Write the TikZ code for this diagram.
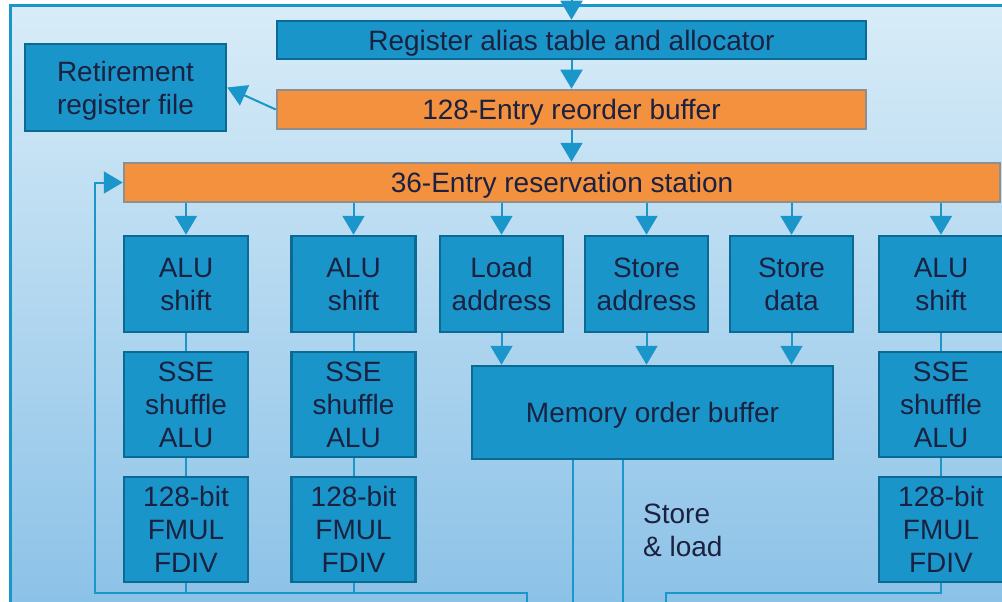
\documentclass[tikz,border=0pt]{standalone}
\usepackage{fontspec}
\setmainfont{Liberation Sans}
\usetikzlibrary{arrows.meta}
\definecolor{unitblue}{HTML}{1A95C9}
\definecolor{unitedge}{HTML}{0B6A93}
\definecolor{bufor}{HTML}{F4913F}
\definecolor{bufedge}{HTML}{8E8E8E}
\definecolor{wireblue}{HTML}{1A96CA}
\definecolor{ink}{HTML}{1B2140}
\definecolor{bgtop}{HTML}{D8ECF8}
\definecolor{bgbot}{HTML}{8CC2E7}
\begin{document}
\begin{tikzpicture}[x=1pt,y=-1pt,font=\fontsize{28}{33}\selectfont,
  unit/.style={draw=unitedge,fill=unitblue,line width=2.5pt,text=ink,inner sep=0pt,text depth=0pt,align=center},
  buf/.style={draw=bufedge,fill=bufor,line width=2.5pt,text=ink,inner sep=0pt,text depth=0pt},
  wire/.style={draw=wireblue,line width=2pt},
  arr/.style={wire,-{Triangle[width=22pt,length=19pt]}}]
\useasboundingbox(0,0)rectangle(1002,602);
\shade[top color=bgtop,bottom color=bgbot](10,6)rectangle(1002,602);
\draw[wireblue,line width=3pt](10,602)--(10,6)--(1002,6);
% front end
\node[unit,minimum width=589pt,minimum height=38pt](rat)at(571.5,40){Register alias table and allocator};
\node[buf,minimum width=589pt,minimum height=39pt](rob)at(571.5,109.5){128-Entry reorder buffer};
\node[unit,minimum width=201pt,minimum height=87pt](rrf)at(125.5,87.5){Retirement\\register file};
\node[buf,minimum width=876pt,minimum height=39pt](rs)at(562,182.5){36-Entry reservation station};
\coordinate(top)at(571.5,0);
\draw[arr](top)--(rat);\draw[arr](rat)--(rob);\draw[arr](rob)--(rob|-rs.north);\draw[arr](rob.west)--(rrf.east);
% execution units
\foreach\n/\x in{a/186,b/353.5,c/941}{
  \node[unit,minimum width=124pt,minimum height=96pt](alu\n)at(\x,284){ALU\\shift};
  \node[unit,minimum width=124pt,minimum height=105pt](sse\n)at(\x,404.5){SSE\\shuffle\\ALU};
  \node[unit,minimum width=124pt,minimum height=105pt](fmul\n)at(\x,529.5){128-bit\\FMUL\\FDIV};
  \draw[wire](alu\n)--(sse\n)--(fmul\n);\draw[arr](rs.south-|alu\n)--(alu\n);}
\node[unit,minimum width=361pt,minimum height=93pt](mob)at(652.5,412.5){Memory order buffer};
\foreach\n/\x/\t in{ld/501.5/{Load\\address},sa/646.5/{Store\\address},sd/791.5/{Store\\data}}{
  \node[unit,minimum width=123pt,minimum height=96pt](\n)at(\x,284){\t};
  \draw[arr](rs.south-|\n)--(\n);\draw[arr](\n)--(\n|-mob.north);}
% result buses
\coordinate(lbus)at(527,602);\coordinate(rbus)at(666,602);\coordinate(lcorner)at(95,593);
\coordinate(ml)at(573,602);\coordinate(mr)at(623,602);
\draw[arr](lbus)|-(lcorner)|-(rs.west);
\draw[wire](fmula)--(fmula|-lcorner) (fmulb)--(fmulb|-lcorner);
\draw[wire](rbus)|-(fmulc.south|-lcorner)--(fmulc);
\draw[wire](ml)--(ml|-mob.south) (mr)--(mr|-mob.south);
\node[text=ink,align=left,anchor=north west,inner sep=0pt](sl)at(643,504){Store\\\& load};
\end{tikzpicture}
\end{document}
